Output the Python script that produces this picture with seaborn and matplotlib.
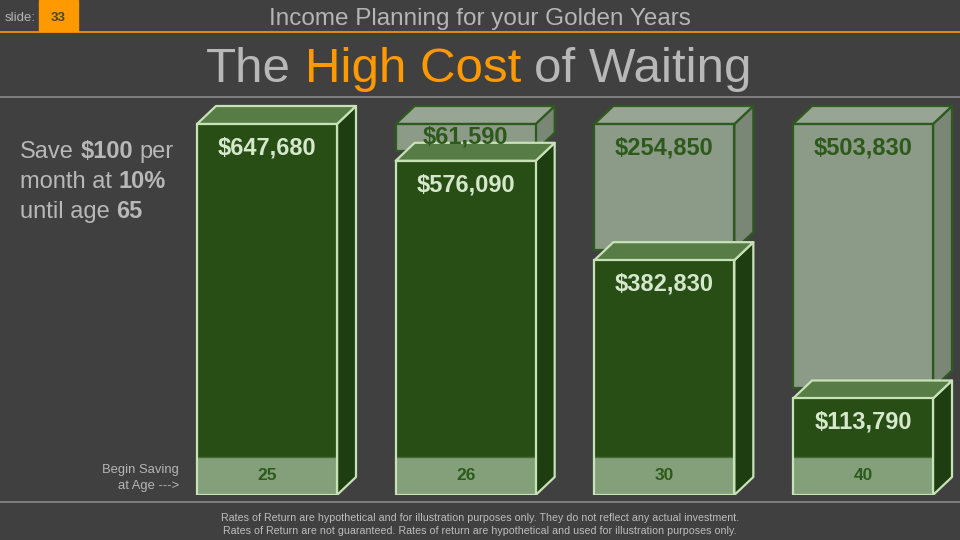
import matplotlib
matplotlib.use("Agg")
import matplotlib.pyplot as plt
from matplotlib.patches import Polygon, Rectangle
import seaborn as sns
import pandas as pd

# ---------------- data ----------------
start_ages = ["25", "26", "30", "40"]
saved_at_65 = [647680, 576090, 382830, 113790]
cost_of_waiting = [0, 61590, 254850, 503830]

slide_no = "33"
subtitle = "Income Planning for your Golden Years"
title_pieces = [("The", "normal", "gray"), ("High Cost", "normal", "orange"), ("of Waiting", "normal", "gray")]
side_lines = [
    [("Save", "normal"), ("$100", "bold"), ("per", "normal")],
    [("month at", "normal"), ("10%", "bold")],
    [("until age", "normal"), ("65", "bold")],
]
row_label = ["Begin Saving", "at Age --->"]
footer_lines = [
    "Rates of Return are hypothetical and for illustration purposes only. They do not reflect any actual investment.",
    "Rates of Return are not guaranteed. Rates of return are hypothetical and used for illustration purposes only.",
]

# ---------------- style ----------------
sns.set_theme(style="white")
plt.rcParams["font.family"] = ["Liberation Sans", "DejaVu Sans"]
plt.rcParams["text.parse_math"] = False

BG = "#404040"
ORANGE = "#ff9900"
TXT = "#b5b5b5"
DARK = "#284e16"
DARK_TOP = "#587c46"
DARK_SIDE = "#1e3d10"
EDGE_L = "#c8e2b8"
BAND = "#84a07a"
GRAY_F = "#8c9a88"
GRAY_T = "#98a594"
GRAY_S = "#7a8676"
GRAY_E = "#2e5a1e"
LBL_L = "#d6e8cc"
LBL_D = "#2d5a1b"

W, H = 960, 540
fig = plt.figure(figsize=(9.6, 5.4), dpi=100, facecolor=BG)

over = fig.add_axes([0, 0, 1, 1], zorder=0)
over.set_xlim(0, W)
over.set_ylim(H, 0)
over.axis("off")

# ---------------- bar axes ----------------
base_px, top_px, bottom_px, ax_top_px = 457, 124, 495, 100
spacing, first_center = 198.67, 267
n = len(start_ages)
vmax = max(saved_at_65)
k = (base_px - top_px) / vmax          # pixels per dollar
left_px = first_center - spacing / 2
ax = fig.add_axes([left_px / W, (H - bottom_px) / H, n * spacing / W,
                   (bottom_px - ax_top_px) / H], zorder=1)
ax.set_facecolor("none")

bw = 140 / spacing
df = pd.DataFrame({"age": start_ages, "saved": saved_at_65, "cost": cost_of_waiting})
sns.barplot(data=df, x="age", y="saved", ax=ax, color=DARK, saturation=1,
            width=bw, linewidth=0, zorder=3)
ax.set_xlim(-0.5, n - 0.5)
ax.set_ylim((base_px - bottom_px) / k, (base_px - ax_top_px) / k)
ax.axis("off")

dx = 19 / spacing
dy = 18 / k
band = (bottom_px - base_px) / k
gap = 10 / k
lw = 1.6

for i, (v, c) in enumerate(zip(saved_at_65, cost_of_waiting)):
    x0, x1 = i - bw / 2, i + bw / 2
    # grey "cost" box sitting above
    if c > 0:
        g0, g1 = v + gap, vmax
        ax.add_patch(Polygon([(x1, g0), (x1 + dx, g0 + dy), (x1 + dx, g1 + dy), (x1, g1)],
                             closed=True, fc=GRAY_S, ec=GRAY_E, lw=lw, zorder=1.2, joinstyle="round"))
        ax.add_patch(Polygon([(x0, g1), (x1, g1), (x1 + dx, g1 + dy), (x0 + dx, g1 + dy)],
                             closed=True, fc=GRAY_T, ec=GRAY_E, lw=lw, zorder=1.3, joinstyle="round"))
        ax.add_patch(Rectangle((x0, g0), bw, g1 - g0, fc=GRAY_F, ec=GRAY_E, lw=lw, zorder=1.4))
        off = min(24, (g1 - g0) * k / 2)
        ax.annotate(f"${c:,}", xy=(i, g1), xytext=(0, -off), textcoords="offset pixels",
                    ha="center", va="center", color=LBL_D, fontsize=17, fontweight="bold", zorder=10)
    # dark "saved" box
    ax.add_patch(Polygon([(x1, -band), (x1 + dx, -band + dy), (x1 + dx, v + dy), (x1, v)],
                         closed=True, fc=DARK_SIDE, ec=EDGE_L, lw=lw, zorder=2, joinstyle="round"))
    ax.add_patch(Polygon([(x0, v), (x1, v), (x1 + dx, v + dy), (x0 + dx, v + dy)],
                         closed=True, fc=DARK_TOP, ec=EDGE_L, lw=lw, zorder=2.5, joinstyle="round"))
    ax.add_patch(Rectangle((x0, -band), bw, band, fc=BAND, ec="none", zorder=4))
    ax.plot([x0, x1], [0, 0], color="#456b33", lw=1, zorder=4.5)
    ax.add_patch(Rectangle((x0, -band), bw, v + band, fill=False, ec=EDGE_L, lw=lw, zorder=5))
    ax.annotate(f"${v:,}", xy=(i, v), xytext=(0, -24), textcoords="offset pixels",
                ha="center", va="center", color=LBL_L, fontsize=17, fontweight="bold", zorder=10)
    ax.text(i, -band / 2, start_ages[i], ha="center", va="center", color=LBL_D,
            fontsize=12.5, fontweight="bold", zorder=10)

# ---------------- header / footer ----------------
over.add_patch(Rectangle((39, 0), 39, 31, color=ORANGE, zorder=1))
over.plot([0, W], [31.5, 31.5], color=ORANGE, lw=1.2, zorder=2)
over.plot([0, W], [96.5, 96.5], color="#8a8a8a", lw=1.2)
over.plot([0, W], [501.5, 501.5], color="#8a8a8a", lw=1.2)
over.text(20, 21, "slide:", ha="center", va="baseline", fontsize=9.5, color=TXT)
over.text(58.5, 21, slide_no, ha="center", va="baseline", fontsize=9.5,
          fontweight="bold", color="#4a4438", zorder=3)
over.text(480, 25, subtitle, ha="center", va="baseline", fontsize=17.5, color=TXT)

renderer = fig.canvas.get_renderer()


def text_w(s, size, weight="normal"):
    t = over.text(0, 0, s, fontsize=size, fontweight=weight)
    w = t.get_window_extent(renderer).width
    t.remove()
    return w


def rich(x, y, pieces, size, align="left"):
    sp = text_w("a a", size) - text_w("aa", size)
    widths = [text_w(s, size, wt) for s, wt, _ in pieces]
    total = sum(widths) + sp * (len(pieces) - 1)
    if align == "center":
        x -= total / 2
    for (s, wt, col), w in zip(pieces, widths):
        over.text(x, y, s, fontsize=size, fontweight=wt, color=col, ha="left", va="baseline")
        x += w + sp


cmap = {"gray": "#b8b8b8", "orange": ORANGE}
rich(479, 82, [(s, wt, cmap[c]) for s, wt, c in title_pieces], 35.5, align="center")

for j, line in enumerate(side_lines):
    rich(20, 158 + j * 30, [(s, wt, "#b8b8b8") for s, wt in line], 17)

over.text(179, 473, row_label[0], ha="right", va="baseline", fontsize=9.4, color=TXT)
over.text(179, 489, row_label[1], ha="right", va="baseline", fontsize=9.4, color=TXT)

for j, line in enumerate(footer_lines):
    over.text(480, 521 + j * 13, line, ha="center", va="baseline", fontsize=7.7, color="#bdbdbd")

fig.savefig("out.png", dpi=100, facecolor=BG)
